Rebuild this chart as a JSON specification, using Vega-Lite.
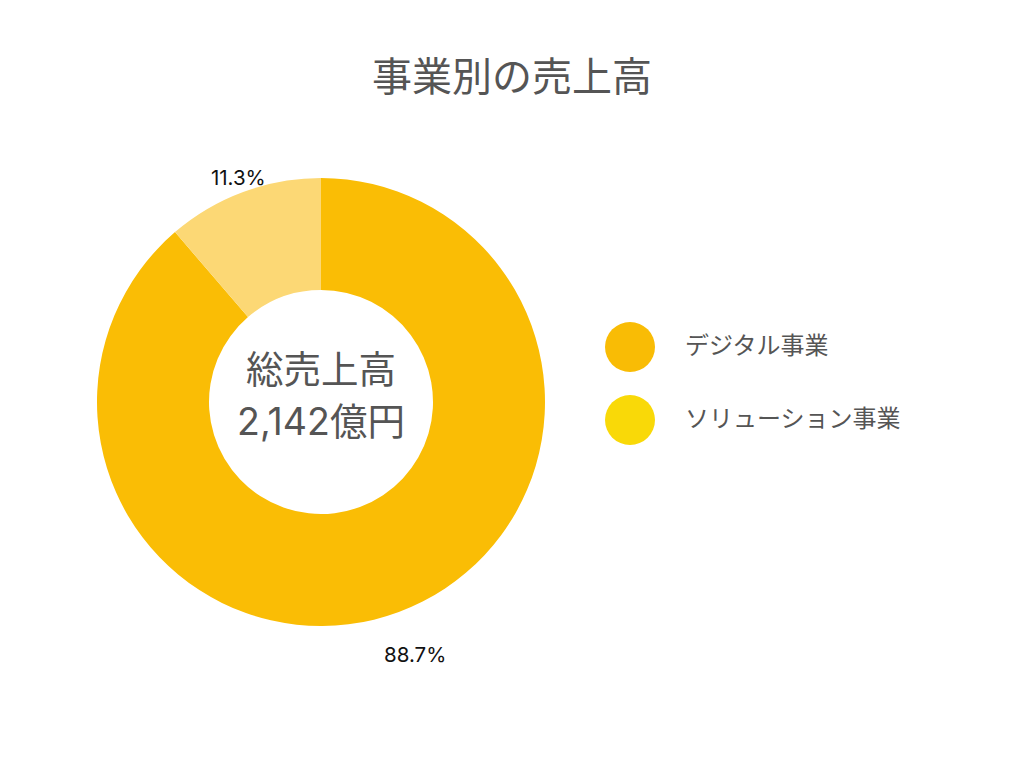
{
  "$schema": "https://vega.github.io/schema/vega-lite/v6.json",
  "autosize": {"type": "none"},
  "width": 642,
  "height": 560,
  "padding": {"left": 0, "top": 122, "right": 382, "bottom": 86},
  "background": "white",
  "config": {"view": {"stroke": null}},
  "title": {
    "text": "事業別の売上高",
    "fontSize": 40,
    "font": "Noto Sans CJK JP",
    "fontWeight": "normal",
    "color": "#555555",
    "anchor": "middle",
    "dx": 191,
    "offset": 23
  },
  "data": {
    "values": [
      {"business": "デジタル事業", "sales": 1900, "share": "88.7%", "rank": 1},
      {"business": "ソリューション事業", "sales": 242, "share": "11.3%", "rank": 2}
    ]
  },
  "layer": [
    {
      "mark": {"type": "arc", "outerRadius": 224, "innerRadius": 112},
      "encoding": {
        "theta": {"field": "sales", "type": "quantitative", "stack": true},
        "order": {"field": "rank", "type": "quantitative"},
        "fill": {
          "field": "business",
          "type": "nominal",
          "scale": {"domain": ["ソリューション事業", "デジタル事業"], "range": ["#FCD875", "#FABD05"]},
          "legend": null
        }
      }
    },
    {
      "mark": {"type": "point", "filled": true, "opacity": 0},
      "encoding": {
        "color": {
          "field": "business",
          "type": "nominal",
          "scale": {"domain": ["デジタル事業", "ソリューション事業"], "range": ["#F9BC05", "#F9D908"]},
          "legend": {
            "orient": "none",
            "legendX": 605,
            "legendY": 200,
            "title": null,
            "symbolType": "circle",
            "symbolSize": 2500,
            "symbolStrokeWidth": 0,
            "symbolOpacity": 1,
            "labelFontSize": 24,
            "labelFont": "Noto Sans CJK JP",
            "labelColor": "#555555",
            "labelOffset": 30,
            "rowPadding": 23,
            "labelLimit": 400
          }
        }
      }
    },
    {
      "mark": {"type": "text", "radius": 271, "fontSize": 20.5, "font": "Inter", "color": "#111111", "baseline": "middle", "align": "center"},
      "encoding": {
        "theta": {"field": "sales", "type": "quantitative", "stack": true},
        "order": {"field": "rank", "type": "quantitative"},
        "detail": {"field": "business", "type": "nominal"},
        "text": {"condition": {"test": "datum.rank == 1", "field": "share"}, "value": ""}
      }
    },
    {
      "mark": {"type": "text", "radius": 238, "fontSize": 20.5, "font": "Inter", "color": "#111111", "baseline": "middle", "align": "center"},
      "encoding": {
        "theta": {"field": "sales", "type": "quantitative", "stack": true},
        "order": {"field": "rank", "type": "quantitative"},
        "detail": {"field": "business", "type": "nominal"},
        "text": {"condition": {"test": "datum.rank == 2", "field": "share"}, "value": ""}
      }
    },
    {
      "data": {"values": [{"label": "総売上高\n2,142億円"}]},
      "mark": {"type": "text", "fontSize": 37.5, "font": "Inter, Noto Sans CJK JP", "color": "#555555", "baseline": "middle", "align": "center", "lineBreak": "\n", "lineHeight": 52, "dy": -30},
      "encoding": {
        "text": {"field": "label", "type": "nominal"}
      }
    }
  ]
}
